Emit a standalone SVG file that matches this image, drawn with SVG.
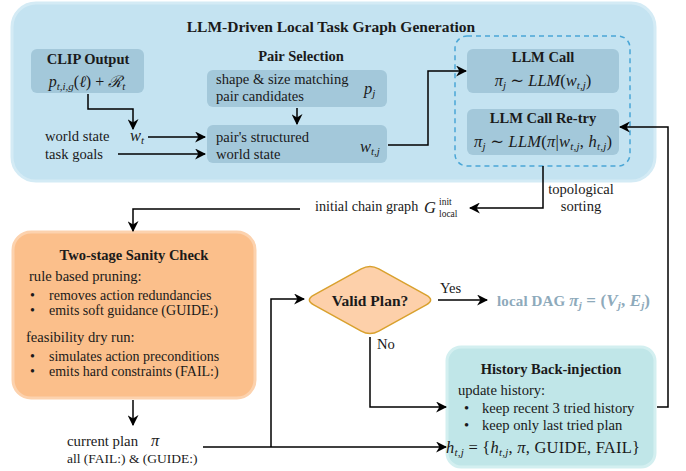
<svg xmlns="http://www.w3.org/2000/svg" width="686" height="471" viewBox="0 0 686 471">
<defs>
<marker id="ah" viewBox="0 0 10 10" refX="9" refY="5" markerWidth="11" markerHeight="11" markerUnits="userSpaceOnUse" orient="auto">
<path d="M0,0 L10,5 L0,10 L3,5 Z" fill="#000"/>
</marker>
<style>
text{font-family:"Liberation Serif","DejaVu Serif",serif;fill:#1a1a1a;}
.t{font-size:14.6px}
.bl{font-size:14px}
.b{font-weight:bold;font-size:14.5px}
.m{font-style:italic;font-size:16.5px}
.r{font-style:normal}
.s{font-size:11px}
.c{stroke:#000;stroke-width:1.5;fill:none}
.ca{stroke:#000;stroke-width:1.5;fill:none;marker-end:url(#ah)}
.inner{fill:#a3c8da}
.dag{font-weight:bold;fill:#8eaabb}
</style>
</defs>

<g id="panel">
<rect x="12" y="3" width="643" height="178" rx="24" fill="#c4e3f1" stroke="#d4ebf5" stroke-width="3"/>
<text x="331" y="32" text-anchor="middle" style="font-weight:bold;font-size:15.5px">LLM-Driven Local Task Graph Generation</text>
</g>

<g id="clip">
<rect x="31" y="49" width="113" height="44" rx="6" class="inner"/>
<text x="88" y="64" text-anchor="middle" class="b">CLIP Output</text>
<text x="87" y="87" text-anchor="middle" class="m" style="font-size:16px">p<tspan class="s" dy="3">t,i,g</tspan><tspan class="r" dy="-3">(</tspan>ℓ<tspan class="r">) + </tspan>ℛ<tspan class="s" dy="3">t</tspan></text>
</g>

<g id="inputs">
<text x="45" y="141" class="t">world state</text>
<text x="45" y="159" class="t">task goals</text>
<text x="130" y="141" class="m">w<tspan class="s" dy="3">t</tspan></text>
</g>

<g id="pairsel">
<text x="301" y="61" text-anchor="middle" class="b">Pair Selection</text>
<rect x="207" y="70" width="180" height="37" rx="6" class="inner"/>
<text x="216" y="84" class="t">shape &amp; size matching<tspan x="216" dy="17">pair candidates</tspan></text>
<text x="364" y="94" class="m">p<tspan class="s" dy="3">j</tspan></text>
<rect x="207" y="125" width="180" height="38" rx="6" class="inner"/>
<text x="216" y="142" class="t">pair's structured<tspan x="216" dy="17">world state</tspan></text>
<text x="360" y="152" class="m">w<tspan class="s" dy="3">t,j</tspan></text>
</g>

<g id="llm">
<rect x="455" y="36" width="175" height="130" rx="12" fill="none" stroke="#4aa6d6" stroke-width="1.5" stroke-dasharray="5,4"/>
<rect x="467" y="49" width="152" height="44" rx="6" class="inner"/>
<text x="543" y="62" text-anchor="middle" class="b">LLM Call</text>
<text x="543" y="86" text-anchor="middle" class="m">π<tspan class="s" dy="3">j</tspan><tspan class="r" dy="-3"> ∼ </tspan>LLM<tspan class="r">(</tspan>w<tspan class="s" dy="3">t,j</tspan><tspan class="r" dy="-3">)</tspan></text>
<rect x="467" y="109" width="152" height="46" rx="6" class="inner"/>
<text x="543" y="123" text-anchor="middle" class="b">LLM Call Re-try</text>
<text x="543" y="147" text-anchor="middle" class="m" textLength="138" lengthAdjust="spacing">π<tspan class="s" dy="3">j</tspan><tspan class="r" dy="-3"> ∼ </tspan>LLM<tspan class="r">(</tspan>π<tspan class="r">|</tspan>w<tspan class="s" dy="3">t,j</tspan><tspan class="r" dy="-3">, </tspan>h<tspan class="s" dy="3">t,j</tspan><tspan class="r" dy="-3">)</tspan></text>
</g>

<g id="graphlabel">
<text x="581" y="194" text-anchor="middle" class="t">topological<tspan x="581" dy="17">sorting</tspan></text>
<text x="315" y="211" style="font-size:14.2px">initial chain graph</text>
<text x="424" y="213" class="m">G</text>
<text x="439" y="205" style="font-size:9.5px">init</text>
<text x="439" y="217" style="font-size:9.5px">local</text>
</g>

<g id="sanity">
<rect x="13" y="232" width="242" height="166" rx="18" fill="#fbbf8b" stroke="#fcd2ae" stroke-width="3"/>
<text x="134" y="260" text-anchor="middle" class="b">Two-stage Sanity Check</text>
<text x="29" y="281" class="t">rule based pruning:</text>
<text x="30" y="299.5" class="bl">•</text>
<text x="49" y="299.5" class="bl">removes action redundancies</text>
<text x="30" y="315" class="bl">•</text>
<text x="49" y="315" class="bl">emits soft guidance (GUIDE:)</text>
<text x="26" y="342" class="t">feasibility dry run:</text>
<text x="30" y="360.5" class="bl">•</text>
<text x="49" y="360.5" class="bl">simulates action preconditions</text>
<text x="30" y="376" class="bl">•</text>
<text x="49" y="376" class="bl">emits hard constraints (FAIL:)</text>
</g>

<g id="current">
<text x="67" y="446" style="font-size:14.8px">current plan</text>
<text x="151" y="446" class="m">π</text>
<text x="67" y="463" style="font-size:13.5px">all (FAIL:) &amp; (GUIDE:)</text>
</g>

<g id="valid">
<path d="M313.75,295.15 L361.25,268.85 Q370,264 378.75,268.85 L426.25,295.15 Q435,300 426.25,304.85 L378.75,331.15 Q370,336 361.25,331.15 L313.75,304.85 Q305,300 313.75,295.15 Z" fill="#fdd0aa" stroke="#d9a12e" stroke-width="1.5"/>
<text x="370" y="306" text-anchor="middle" style="font-weight:bold;font-size:15.5px">Valid Plan?</text>
<text x="440" y="293" class="t">Yes</text>
<text x="377" y="349" class="t">No</text>
</g>

<g id="dag">
<text x="497" y="306" class="dag" style="font-size:15px" textLength="153" lengthAdjust="spacing">local DAG <tspan class="dag" style="font-style:italic;font-size:17px">π</tspan><tspan class="dag" style="font-size:11px;font-style:italic" dy="3">j</tspan><tspan class="dag" style="font-size:17px" dy="-3"> = (</tspan><tspan class="dag" style="font-style:italic;font-size:17px">V</tspan><tspan class="dag" style="font-size:11px;font-style:italic" dy="3">j</tspan><tspan class="dag" style="font-size:17px" dy="-3">, </tspan><tspan class="dag" style="font-style:italic;font-size:17px">E</tspan><tspan class="dag" style="font-size:11px;font-style:italic" dy="3">j</tspan><tspan class="dag" style="font-size:17px" dy="-3">)</tspan></text>
</g>

<g id="history">
<rect x="447" y="347" width="208" height="120" rx="14" fill="#c0e6e8" stroke="#d3eff0" stroke-width="3"/>
<text x="551" y="374" text-anchor="middle" class="b">History Back-injection</text>
<text x="458" y="395" class="t">update history:</text>
<text x="464" y="413" class="t">•</text>
<text x="482" y="413" class="t">keep recent 3 tried history</text>
<text x="464" y="430" class="t">•</text>
<text x="482" y="430" class="t">keep only last tried plan</text>
<text x="446" y="453" class="m" textLength="194" lengthAdjust="spacing">h<tspan class="s" dy="3">t,j</tspan><tspan class="r" dy="-3"> = {</tspan>h<tspan class="s" dy="3">t,j</tspan><tspan class="r" dy="-3">, </tspan>π<tspan class="r">, GUIDE, FAIL}</tspan></text>
</g>

<g id="connectors">
<path class="ca" d="M88,94 V109 H133 V129"/>
<path class="ca" d="M148,137 H205"/>
<path class="ca" d="M118,154 H205"/>
<path class="ca" d="M297,108 V124"/>
<path class="ca" d="M388,145 H428 V71 H466"/>
<path class="ca" d="M543,166 V208 H470"/>
<path class="ca" d="M300,209 H133 V231"/>
<path class="ca" d="M133,400 V425"/>
<path class="ca" d="M203,447 H446"/>
<path class="ca" d="M271,447 V299 H304"/>
<path class="ca" d="M438,300 H487"/>
<path class="ca" d="M370,337 V407 H446"/>
<path class="ca" d="M657,407 H668 V127 H620"/>
</g>
</svg>
